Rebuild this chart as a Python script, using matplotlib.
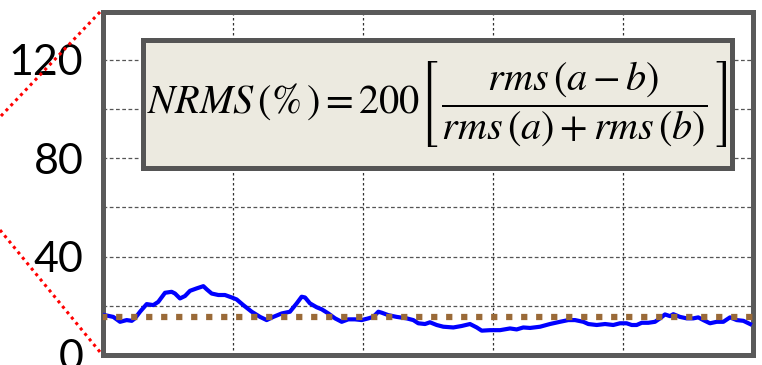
import numpy as np
import matplotlib.pyplot as plt
from matplotlib.lines import Line2D
from matplotlib.patches import Rectangle

plt.rcParams['mathtext.fontset'] = 'stix'

# blue NRMS trace (x in grid units, y in %)
x_nrms = [0.015, 0.079, 0.131, 0.182, 0.221, 0.246, 0.285, 0.336, 0.387, 0.425,
          0.477, 0.528, 0.554, 0.592, 0.631, 0.669, 0.721, 0.772, 0.798, 0.836,
          0.887, 0.938, 0.990, 1.028, 1.079, 1.144, 1.208, 1.259, 1.310, 1.375,
          1.438, 1.490, 1.528, 1.554, 1.592, 1.644, 1.682, 1.733, 1.785, 1.836,
          1.887, 1.938, 1.990, 2.041, 2.079, 2.118, 2.144, 2.195, 2.259, 2.336,
          2.387, 2.425, 2.477, 2.515, 2.567, 2.618, 2.695, 2.759, 2.823, 2.875,
          2.913, 2.977, 3.054, 3.131, 3.182, 3.233, 3.285, 3.362, 3.438, 3.515,
          3.579, 3.631, 3.695, 3.733, 3.798, 3.862, 3.925, 3.977, 4.028, 4.067,
          4.105, 4.144, 4.195, 4.246, 4.285, 4.323, 4.362, 4.387, 4.438, 4.490,
          4.541, 4.579, 4.618, 4.669, 4.721, 4.772, 4.823, 4.875, 4.926, 4.977]
y_nrms = [16.2, 15.5, 13.5, 14.2, 13.9, 14.9, 17.6, 20.7, 20.3, 21.6,
          25.3, 25.7, 25.0, 23.0, 24.0, 26.1, 27.1, 28.0, 26.7, 25.0,
          24.4, 24.4, 23.4, 22.6, 20.3, 17.6, 15.5, 14.2, 15.5, 16.9,
          17.6, 21.0, 23.7, 23.4, 21.0, 19.4, 18.6, 16.9, 14.9, 13.5,
          14.5, 14.5, 14.2, 14.9, 15.5, 17.6, 17.2, 16.2, 15.5, 14.9,
          14.2, 12.9, 12.6, 13.3, 12.2, 11.5, 11.2, 11.8, 12.6, 11.2,
          9.9, 10.1, 10.1, 10.8, 10.4, 11.2, 11.0, 11.5, 12.6, 13.5,
          14.2, 14.2, 13.5, 12.6, 12.2, 12.6, 12.2, 12.9, 12.9, 12.2,
          12.2, 13.1, 13.1, 13.5, 14.9, 16.5, 15.8, 16.6, 15.5, 14.9,
          14.9, 15.3, 14.2, 12.9, 13.5, 13.5, 15.3, 14.2, 13.9, 12.6]

mean_level = 15.3
y_ticks = [0, 40, 80, 120]
formula = r'$NRMS\,(\%\,) = 200\left[\,\dfrac{rms\,(a-b)}{rms\,(a)+rms\,(b)}\,\right]$'

fig = plt.figure(figsize=(7.62, 3.65), dpi=100)
ax = fig.add_axes([103/762, 10/365, 650/762, 343/365])

ax.plot(x_nrms, y_nrms, color='#0000FF', lw=3.0, zorder=3)
ax.plot([0, 5], [mean_level, mean_level], color='#9A6A38', lw=4.5,
        linestyle=(0.3, (1, 1.4)), dash_capstyle='butt', zorder=4)

ax.set_xlim(0, 5)
ax.set_ylim(0, 139.5)
ax.set_xticks(np.arange(1, 5))
ax.set_xticklabels([])
ax.set_yticks(np.arange(20, 140, 20), minor=True)
ax.set_yticks(y_ticks)
ax.set_yticklabels([str(v) for v in y_ticks], fontsize=31, family='Lato')
ax.tick_params(axis='both', which='both', length=0)
ax.tick_params(axis='y', pad=14)
ax.grid(axis='x', color='#333333', lw=0.9, linestyle=(0, (2, 2)))
ax.grid(axis='y', which='both', color='#555555', lw=0.9, linestyle=(0, (3, 2)))
for s in ax.spines.values():
    s.set_color('#5a5a5a')
    s.set_linewidth(3.6)

# formula box
ax.add_patch(Rectangle((0.0615, 0.545), 0.906, 0.373, transform=ax.transAxes,
                       facecolor='#ECEAE0', edgecolor='#555555', lw=3.6, zorder=5))
ax.text(0.5135, 0.731, formula, transform=ax.transAxes, ha='center', va='center',
        fontsize=29, zorder=6)

# red zoom-callout lines
fig.add_artist(Line2D([100/762, 0], [1 - 12/365, 1 - 117/365], color='red', lw=2.2,
                      linestyle=(0, (1, 1.3)), transform=fig.transFigure))
fig.add_artist(Line2D([0, 100/762], [1 - 230/365, 1 - 352/365], color='red', lw=2.2,
                      linestyle=(0, (1, 1.3)), transform=fig.transFigure))

plt.savefig('out.png', dpi=100)
